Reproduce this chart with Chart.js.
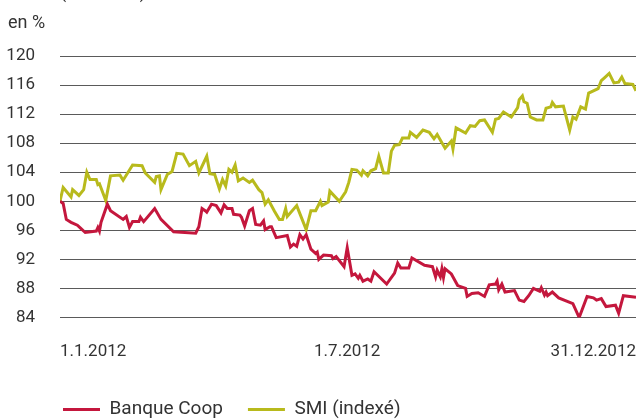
<!DOCTYPE html>
<html>
<head>
<meta charset="utf-8">
<script src="https://cdn.jsdelivr.net/npm/chart.js@4.4.0/dist/chart.umd.min.js"></script>
<style>
  html, body { margin: 0; padding: 0; background: #fff; }
  #wrap { width: 637px; height: 419px; position: relative; }
</style>
</head>
<body>
<div id="wrap"><canvas id="chart"></canvas></div>
<script>
// days since 1.1.2012
const tickDays = [0, 182, 365];
const tickLabels = ["1.1.2012", "1.7.2012", "31.12.2012"];

const coopDays = [0,2,4,7,11,13,16,23,24,25,26,30,32,40,42,44,46,50,51,53,60,64,72,86,88,90,92,93,96,99,102,104,106,109,110,114,115,117,120,122,124,127,129,130,133,134,137,144,146,148,150,152,154,156,159,162,163,164,167,172,173,175,180,182,185,187,189,190,192,195,197,199,207,212,214,216,221,223,231,236,238,239,241,242,243,244,248,252,257,258,261,265,269,272,276,277,278,280,282,288,291,294,297,300,304,305,307,308,309,312,316,325,329,334,338,340,343,346,352,354,357,365];
const coopValues = [100.0,99.7,97.5,97.1,96.7,96.3,95.7,95.9,96.4,95.9,97.1,99.6,98.7,97.5,97.9,96.4,97.2,97.2,97.8,97.2,99.0,97.5,95.8,95.6,96.5,99.0,98.7,98.5,99.6,99.4,98.4,99.5,99.0,99.0,98.2,98.1,97.8,96.6,98.7,99.0,96.8,96.7,97.3,96.1,96.5,96.5,95.0,95.3,93.7,94.1,93.8,95.4,94.8,95.4,93.4,92.8,93.0,92.0,92.6,92.5,92.1,92.4,91.0,93.6,89.8,90.0,89.4,89.8,89.0,89.3,89.0,90.3,88.6,90.1,91.5,90.8,90.8,92.2,91.2,91.0,89.6,90.5,89.6,90.7,89.5,90.7,90.0,88.4,88.0,86.9,87.3,87.4,86.9,88.5,88.6,89.0,87.8,88.6,87.5,87.7,86.4,86.2,87.0,88.0,87.6,88.1,87.1,87.5,87.0,87.5,86.7,85.9,84.0,86.9,86.7,86.4,86.6,85.5,85.7,84.6,87.0,86.8];

const smiDays = [0,2,7,8,12,15,17,19,23,24,25,29,32,38,40,46,52,54,60,61,63,64,68,71,74,78,82,86,88,93,95,98,101,103,105,107,109,111,113,116,120,122,126,128,130,132,136,139,141,143,144,150,156,159,162,165,166,170,171,177,181,183,185,188,191,192,195,197,200,202,205,208,210,212,215,217,221,222,226,230,234,237,239,244,248,249,251,257,260,263,266,269,274,276,278,281,286,290,291,293,294,296,298,302,306,308,311,312,314,319,323,325,327,330,333,335,341,343,345,348,351,354,356,358,363,365];
const smiValues = [100.0,101.9,100.6,101.6,100.8,101.6,104.0,103.0,103.0,102.3,102.4,100.1,103.5,103.6,102.9,105.0,104.9,103.9,102.6,103.4,103.5,101.6,103.7,104.1,106.6,106.5,104.9,105.5,103.9,106.2,103.8,103.7,101.7,103.0,102.1,104.4,104.0,105.0,102.8,103.2,102.6,102.9,101.6,101.2,99.6,100.2,98.6,97.5,97.5,99.0,97.9,99.4,96.1,98.7,98.7,100.0,99.4,99.9,101.4,100.0,101.3,102.6,104.4,104.3,103.6,104.2,103.5,104.2,104.5,106.2,103.9,103.9,106.9,107.7,107.8,108.7,108.7,109.5,108.8,109.8,109.5,108.6,109.2,107.3,108.3,107.2,110.1,109.4,110.4,110.3,111.1,111.2,109.5,111.3,111.4,112.3,111.6,112.9,114.0,114.5,113.7,113.5,111.6,111.2,111.2,112.8,113.0,113.6,113.0,113.1,109.8,111.6,111.3,113.0,112.7,114.9,115.5,116.6,117.0,117.6,116.3,116.4,117.1,116.2,116.1,115.2];

const RED = "#c4173d";
const GREEN = "#b8ba1c";
const TEXT = "#333333";

Chart.defaults.font.family = "Roboto, 'Open Sans', sans-serif";
Chart.defaults.color = TEXT;

// "en %" label + legend nudge
const extras = {
    id: "extras",
    afterLayout(chart) {
        chart.legend.left = 38;
        chart.legend.top += 10;
    },
    afterDraw(chart) {
        const ctx = chart.ctx;
        ctx.save();
        ctx.fillStyle = TEXT;
        ctx.font = "18px Roboto, sans-serif";
        ctx.textBaseline = "alphabetic";
        ctx.textAlign = "left";
        ctx.fillText("en %", 8, 28);
        ctx.fillText("(base 100)", 60, -2);
        ctx.restore();
    }
};

const ctx = document.getElementById("chart").getContext("2d");
new Chart(ctx, {
    type: "line",
    data: {
        datasets: [
            {
                label: "Banque Coop",
                data: coopDays.map((d, i) => ({ x: d, y: coopValues[i] })),
                borderColor: RED,
                backgroundColor: RED,
                borderWidth: 3,
                pointRadius: 0,
                tension: 0,
                fill: false
            },
            {
                label: "SMI (indexé)",
                data: smiDays.map((d, i) => ({ x: d, y: smiValues[i] })),
                borderColor: GREEN,
                backgroundColor: GREEN,
                borderWidth: 3,
                pointRadius: 0,
                tension: 0,
                fill: false
            }
        ]
    },
    options: {
        responsive: true,
        maintainAspectRatio: false,
        animation: false,
        layout: { padding: { top: 56, left: 0, right: 1, bottom: 0 } },
        plugins: {
            tooltip: { enabled: false },
            legend: {
                position: "bottom",
                align: "start",
                labels: {
                    usePointStyle: true,
                    pointStyle: "line",
                    pointStyleWidth: 37,
                    boxHeight: 3,
                    padding: 25,
                    color: TEXT,
                    font: { size: 19 }
                }
            }
        },
        scales: {
            x: {
                type: "linear",
                min: 0,
                max: 365,
                afterBuildTicks: (scale) => { scale.ticks = tickDays.map(v => ({ value: v })); },
                afterFit: (scale) => {
                    scale.height = 47.5;
                    scale.paddingLeft = 0;
                    scale.paddingRight = 0;
                },
                grid: { display: false, drawTicks: false },
                border: { display: false },
                ticks: {
                    align: "inner",
                    autoSkip: false,
                    maxRotation: 0,
                    padding: 24,
                    font: { size: 17 },
                    callback: (v) => tickLabels[tickDays.indexOf(v)]
                }
            },
            y: {
                min: 84,
                max: 120,
                afterFit: (scale) => { scale.width = 60; },
                grid: { color: "#5a5a5a", lineWidth: 1, drawTicks: false },
                border: { display: false },
                ticks: {
                    stepSize: 4,
                    padding: 25,
                    font: { size: 17 }
                }
            }
        }
    },
    plugins: [extras]
});
</script>
</body>
</html>
